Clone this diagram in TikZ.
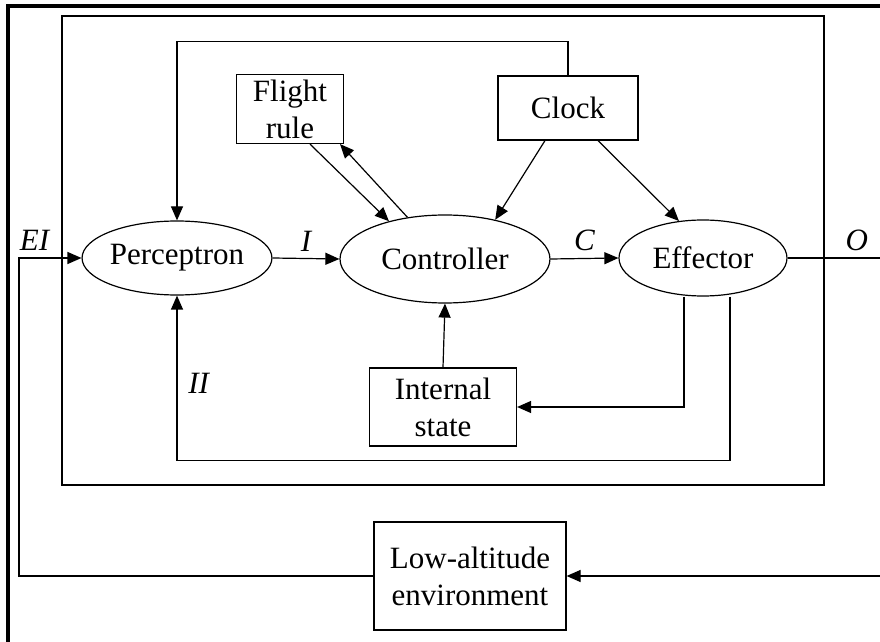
\documentclass[tikz,border=0pt]{standalone}
\usepackage{fontspec}
\setmainfont{Liberation Serif}
\usetikzlibrary{shapes,arrows.meta,positioning,calc}

\begin{document}
\begin{tikzpicture}[
    x=0.5pt, y=-0.5pt,
    every node/.style={font=\fontsize{15.5}{18.5}\selectfont},
    unit/.style={ellipse, draw=black, line width=0.6pt, inner sep=0pt, text centered},
    blk/.style={rectangle, draw=black, line width=0.6pt, align=center, inner sep=0pt},
    arrow/.style={-{Triangle[length=7pt,width=6pt]}, line width=0.6pt, black},
    line/.style={line width=0.6pt, black},
    label/.style={font=\fontsize{15.5}{18.5}\selectfont\itshape}
]
\useasboundingbox (0,0) rectangle (880,642);

% Frames
\draw[line width=1.6pt] (8,642) |- (880,6);
\draw[line] (62,16) rectangle (824,485);

% Units
\node[unit, minimum width=93pt, minimum height=37pt] (percep) at (177,258) {Perceptron};
\node[unit, minimum width=105pt, minimum height=44pt] (ctrl) at (445,259) {Controller};
\node[unit, minimum width=84pt, minimum height=38pt] (eff) at (703,258) {Effector};

% Blocks
\node[blk, minimum width=53.5pt, minimum height=34.5pt] (flight) at (290,109) {Flight\\rule};
\node[blk, minimum width=70pt, minimum height=32pt] (clock) at (568,108) {Clock};
\node[blk, minimum width=73.5pt, minimum height=39pt] (state) at (443,407) {Internal\\state};
\node[blk, minimum width=96pt, minimum height=54pt] (env) at (470,576) {Low-altitude\\environment};

% Free ends
\coordinate (ei) at (19,258);
\coordinate (out) at (880,258);
\coordinate (envin) at (880,576);

% Arrows
\draw[arrow] (percep.east) -- node[label, above] {I} (ctrl.west);
\draw[arrow] (ctrl.east) -- node[label, above] {C} (eff.west);
\draw[line] (eff.east) -- node[label, above, pos=0.75] {O} (out);

\draw[arrow] (clock.north) -- ++(0,-34) -| (percep.north);
\draw[arrow] ([xshift=10pt]flight.south) -- (ctrl.146);
\draw[arrow] (ctrl.132) -- ([xshift=25pt]flight.south);
\draw[arrow] ([xshift=-11.5pt]clock.south) -- (ctrl.38);
\draw[arrow] ([xshift=15pt]clock.south) -- (eff.123);

\draw[arrow] (state.north) -- (ctrl.south);
\draw[arrow] ([xshift=-9.5pt]eff.south) |- (state.east);
\draw[arrow] ([xshift=13.5pt]eff.south) -- ++(0,164) -| node[label, right, pos=0.735, xshift=2pt] {II} (percep.south);

\draw[arrow] (envin) -- (env.east);
\draw[arrow] (env.west) -| (ei) -- node[label, above, pos=0.25] {EI} (percep.west);

\end{tikzpicture}
\end{document}
